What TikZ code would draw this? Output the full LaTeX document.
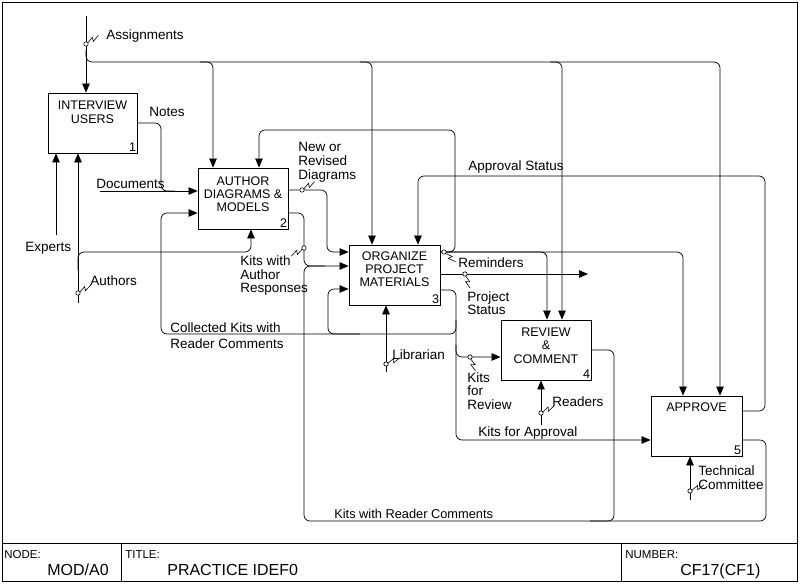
\documentclass[tikz,border=0pt]{standalone}
\usepackage{fontspec}
\setmainfont{Liberation Sans}
\usetikzlibrary{arrows.meta}
\begin{document}
\begin{tikzpicture}[x=1pt,y=-1pt,
  line width=0.7pt,
  arr/.style={-{Triangle[length=9pt,width=7.5pt]}},
  rc/.style={rounded corners=6pt},
  procbox/.style={draw, line width=0.9pt, inner sep=0pt},
  boxtxt/.style={font=\fontsize{12.5}{13.3}\selectfont, align=center, inner sep=0pt, anchor=north},
  numtxt/.style={font=\fontsize{12.5}{13}\selectfont, inner sep=0pt, anchor=base east},
  lbl/.style={font=\fontsize{13.5}{13.8}\selectfont, inner sep=0pt, anchor=base west},
  mlbl/.style={font=\fontsize{13.5}{13.8}\selectfont, inner sep=0pt, anchor=north west, align=left},
  smalltxt/.style={font=\fontsize{11.5}{12}\selectfont, inner sep=0pt, anchor=base west},
  bigtxt/.style={font=\fontsize{16}{18}\selectfont, inner sep=0pt, anchor=base west},
  squig/.pic={
    \draw[line width=0.6pt, fill=white] (0,0) circle (2.2pt);
    \draw[line width=0.6pt] (2.2,0) -- (9,-2.2) -- (7.5,1.8) -- (15,-0.5);
  }
]
\useasboundingbox (0,0) rectangle (800,584);

% frame and title block
\draw[line width=0.9pt] (2,2) rectangle (797,581);
\draw[line width=0.9pt] (2,543) -- (797,543);
\draw[line width=0.9pt] (121,543) -- (121,581);
\draw[line width=0.9pt] (621,543) -- (621,581);
\node[smalltxt] (tnode) at (4,558) {NODE:};
\node[bigtxt] (tnodev) at (47,575) {MOD/A0};
\node[smalltxt] (ttitle) at (125,558) {TITLE:};
\node[bigtxt] (ttitlev) at (167,575) {PRACTICE IDEF0};
\node[smalltxt] (tnum) at (625,558) {NUMBER:};
\node[bigtxt] (tnumv) at (680,575) {CF17(CF1)};

% boxes
\node[procbox, minimum width=89pt, minimum height=60pt] (b1) at (92.5,123) {};
\node[procbox, minimum width=90pt, minimum height=61pt] (b2) at (243,198.5) {};
\node[procbox, minimum width=91pt, minimum height=60pt] (b3) at (394.5,275) {};
\node[procbox, minimum width=90pt, minimum height=60pt] (b4) at (546,350) {};
\node[procbox, minimum width=91pt, minimum height=60pt] (b5) at (696.5,426) {};

\node[boxtxt] (b1t) at (b1.north |- 0,101) {INTERVIEW\\USERS};
\node[boxtxt] (b2t) at (b2.north |- 0,176) {AUTHOR\\DIAGRAMS \&\\MODELS};
\node[boxtxt] (b3t) at (b3.north |- 0,251) {ORGANIZE\\PROJECT\\MATERIALS};
\node[boxtxt] (b4t) at (b4.north |- 0,327.7) {REVIEW\\\&\\COMMENT};
\node[boxtxt] (b5t) at (b5.north |- 0,402.7) {APPROVE};

\node[numtxt] (b1n) at ([shift={(-1,-1.5)}]b1.south east) {1};
\node[numtxt] (b2n) at ([shift={(-1,-1.5)}]b2.south east) {2};
\node[numtxt] (b3n) at ([shift={(-1,-1.5)}]b3.south east) {3};
\node[numtxt] (b4n) at ([shift={(-1,-1.5)}]b4.south east) {4};
\node[numtxt] (b5n) at ([shift={(-1,-1.5)}]b5.south east) {5};

% free ends
\coordinate (asgS) at (86,16);
\coordinate (docS) at (100,191);
\coordinate (expS) at (56,235);
\coordinate (autS) at (78,303);
\coordinate (libS) at (386,372);
\coordinate (rdrS) at (541,425);
\coordinate (tcS) at (690,500);
\coordinate (psE) at (588,274);

% Assignments
\draw[arr] (asgS) -- (asgS |- b1.north);
\draw[arr,rc] (asgS |- 0,50) |- (150,62) -| (b2.north -| 213,0);
\draw[arr,rc] (200,62) -| (b3.north -| 372,0);
\draw[arr,rc] (360,62) -| (b4.north -| 562,0);
\draw[arr,rc] (550,62) -| (b5.north -| 720,0);

% Notes and Documents
\draw[rc] (b1.east |- 0,123) -| (161,191) -- (175,191);
\draw[arr] (docS) -- (docS -| b2.west);

% Experts and Authors
\draw[arr] (expS) -- (expS |- b1.south);
\draw[arr] (autS) -- (autS |- b1.south);
\draw[arr,rc] (autS |- 0,270) |- (200,252) -| (b2.south -| 251,0);

% outputs of box 2
\draw[arr,rc] (b2.east |- 0,190) -| (327,252) -- (b3.west |- 0,252);
\draw[arr,rc] (b2.east |- 0,213) -| (304,266) -- (b3.west |- 0,266);

% Kits with Reader Comments
\draw[rc] (b5.east |- 0,440) -| (766,521) -| (304,266) -- (325,266);
\draw[rc] (b4.east |- 0,350) -| (614,521) -- (590,521);

% outputs of box 3
\draw[arr,rc] (b3.east |- 0,252) -| (455,130) -| (b2.north -| 259,0);
\draw[arr,rc] (b3.east |- 0,252) -| (b4.north -| 547,0);
\draw[arr,rc] (b3.east |- 0,252) -| (b5.north -| 683,0);
\draw[arr] (b3.east |- 0,274) -- (psE);
\draw[arr,rc] (b3.east |- 0,290) -| (456,334) -| (328,289) -- (b3.west |- 0,289);
\draw[arr,rc] (360,334) -| (161,213) -- (b2.west |- 0,213);
\draw[arr,rc] (456,320) |- (b4.west |- 0,357);
\draw[arr,rc] (456,345) |- (b5.west |- 0,440);

% Approval Status
\draw[arr,rc] (b5.east |- 0,411) -| (765,176) -| (b3.north -| 418,0);

% mechanisms
\draw[arr] (libS) -- (libS |- b3.south);
\draw[arr] (rdrS) -- (rdrS |- b4.south);
\draw[arr] (tcS) -- (tcS |- b5.south);

% squiggles
\pic[rotate=33] at (86,44) {squig};
\pic[rotate=32] at (302,190) {squig};
\pic[rotate=211] at (304,248) {squig};
\pic[rotate=-42] at (444,252) {squig};
\pic[rotate=-72] at (465,274) {squig};
\pic[rotate=-70] at (470,357) {squig};
\pic[rotate=22] at (386,364) {squig};
\pic[rotate=27] at (541,413) {squig};
\pic[rotate=22] at (690,491) {squig};
\pic[rotate=30] at (78,293) {squig};

% labels
\node[lbl] (lAsg) at (106,39.3) {Assignments};
\node[lbl] (lNotes) at (149,116.7) {Notes};
\node[lbl] (lDoc) at (96,188) {Documents};
\node[mlbl] (lNew) at (298,142) {New or\\Revised\\Diagrams};
\node[lbl] (lApp) at (468,170) {Approval Status};
\node[lbl] (lExp) at (25,251.5) {Experts};
\node[mlbl] (lKAR) at (240,255.2) {Kits with\\Author\\Responses};
\node[lbl] (lAut) at (90,285.3) {Authors};
\node[mlbl] (lColl) at (170,322) {Collected Kits with\\[2.2pt]Reader Comments};
\node[lbl] (lRem) at (458,267) {Reminders};
\node[mlbl] (lPS) at (467,291) {Project\\Status};
\node[lbl] (lLib) at (392,359.3) {Librarian};
\node[mlbl] (lKfR) at (467,372) {Kits\\for\\Review};
\node[lbl] (lRdr) at (552,406.7) {Readers};
\node[lbl] (lKfA) at (478,436.7) {Kits for Approval};
\node[mlbl] (lTC) at (698,465.2) {Technical\\Committee};
\node[lbl, font=\fontsize{12.8}{13}\selectfont] (lKRC) at (334,518.3) {Kits with Reader Comments};
\end{tikzpicture}
\end{document}
